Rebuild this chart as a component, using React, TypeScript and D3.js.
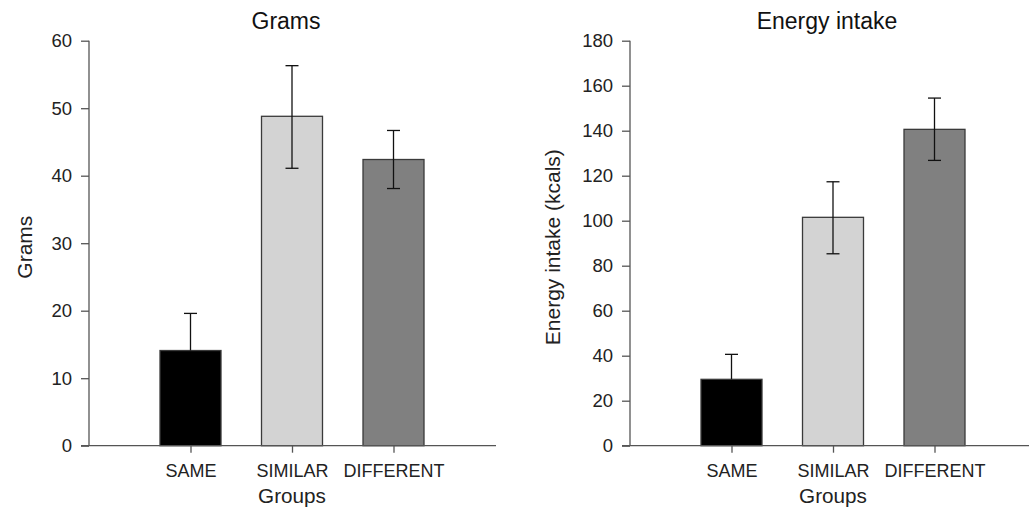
import React, { useEffect, useRef } from 'react';
import * as d3 from 'd3';

// groups on the x axis
const groups = ['SAME', 'SIMILAR', 'DIFFERENT'];
const barColors = ['#000000', '#d3d3d3', '#808080'];

// Grams panel
const gramsMean = [14.1, 48.8, 42.4];
const gramsLow = [14.1, 41.1, 38.1];
const gramsHigh = [19.6, 56.3, 46.7];
const gramsTicks = [0, 10, 20, 30, 40, 50, 60];

// Energy intake panel
const energyMean = [29.5, 101.5, 140.6];
const energyLow = [29.5, 85.3, 126.8];
const energyHigh = [40.6, 117.3, 154.5];
const energyTicks = [0, 20, 40, 60, 80, 100, 120, 140, 160, 180];

const FONT = '"Liberation Sans", Arial, sans-serif';

type PanelProps = {
  left: number;
  title: string;
  yLabel: string;
  yMax: number;
  ticks: number[];
  mean: number[];
  low: number[];
  high: number[];
  xRight: number;
  labelOffset: number;
};

const Panel = ({ left, title, yLabel, yMax, ticks, mean, low, high, xRight, labelOffset }: PanelProps) => {
  const gRef = useRef<SVGGElement>(null);

  useEffect(() => {
    const g = d3.select(gRef.current);
    g.selectAll('*').remove();

    const top = 40.7;
    const bottom = 445.7;
    const plotW = 406;

    const x = d3.scalePoint<string>().domain(groups).range([0, plotW]).padding(1);
    const y = d3.scaleLinear().domain([0, yMax]).range([bottom, top]);
    const barW = 61;

    // bars
    g.selectAll('.bar')
      .data(groups)
      .enter()
      .append('rect')
      .attr('x', (d) => (x(d) as number) - barW / 2)
      .attr('y', (d, i) => y(mean[i]))
      .attr('width', barW)
      .attr('height', (d, i) => bottom - y(mean[i]))
      .attr('fill', (d, i) => barColors[i])
      .attr('stroke', '#3a3a3a')
      .attr('stroke-width', 1.3);

    // error bars
    const cap = 6.5;
    groups.forEach((d, i) => {
      const cx = x(d) as number;
      g.append('line')
        .attr('x1', cx).attr('x2', cx)
        .attr('y1', y(low[i])).attr('y2', y(high[i]))
        .attr('stroke', '#111').attr('stroke-width', 1.3);
      g.append('line')
        .attr('x1', cx - cap).attr('x2', cx + cap)
        .attr('y1', y(high[i])).attr('y2', y(high[i]))
        .attr('stroke', '#111').attr('stroke-width', 1.3);
      if (low[i] < mean[i]) {
        g.append('line')
          .attr('x1', cx - cap).attr('x2', cx + cap)
          .attr('y1', y(low[i])).attr('y2', y(low[i]))
          .attr('stroke', '#111').attr('stroke-width', 1.3);
      }
    });

    // y axis
    const yAxis = g.append('g')
      .call(d3.axisLeft(y).tickValues(ticks).tickSize(8).tickPadding(9));
    yAxis.select('.domain').attr('stroke', '#555').attr('stroke-width', 1.3).attr('d', `M0,${top}V${bottom}`);
    yAxis.selectAll('.tick line').attr('stroke', '#555').attr('stroke-width', 1.3);
    yAxis.selectAll('.tick text').attr('font-family', FONT).attr('font-size', 18.5).attr('fill', '#222');

    // x axis
    const xAxis = g.append('g')
      .attr('transform', `translate(0,${bottom})`)
      .call(d3.axisBottom(x).tickSize(7).tickPadding(12));
    xAxis.select('.domain').attr('stroke', '#555').attr('stroke-width', 1.3).attr('d', `M-8,0H${xRight}`);
    xAxis.selectAll('.tick line').attr('stroke', '#555').attr('stroke-width', 1.3);
    xAxis.selectAll('.tick text').attr('font-family', FONT).attr('font-size', 18).attr('fill', '#222');

    // labels
    g.append('text')
      .attr('x', plotW / 2 - 6)
      .attr('y', 29)
      .attr('text-anchor', 'middle')
      .attr('font-family', FONT)
      .attr('font-size', 23)
      .attr('fill', '#111')
      .text(title);

    g.append('text')
      .attr('x', plotW / 2)
      .attr('y', 503)
      .attr('text-anchor', 'middle')
      .attr('font-family', FONT)
      .attr('font-size', 20.7)
      .attr('fill', '#222')
      .text('Groups');

    g.append('text')
      .attr('transform', `translate(${-labelOffset},${(top + bottom) / 2 + 4}) rotate(-90)`)
      .attr('text-anchor', 'middle')
      .attr('font-family', FONT)
      .attr('font-size', 21)
      .attr('fill', '#222')
      .text(yLabel);
  }, [left, title, yLabel, yMax, ticks, mean, low, high, xRight, labelOffset]);

  return <g ref={gRef} transform={`translate(${left},0)`} />;
};

export default function App() {
  return (
    <svg width={1029} height={510} style={{ position: 'absolute', left: 0, top: 0, background: '#fff' }}>
      <Panel left={89} title="Grams" yLabel="Grams" yMax={60} ticks={gramsTicks}
        mean={gramsMean} low={gramsLow} high={gramsHigh} xRight={407} labelOffset={57} />
      <Panel left={630} title="Energy intake" yLabel="Energy intake (kcals)" yMax={180} ticks={energyTicks}
        mean={energyMean} low={energyLow} high={energyHigh} xRight={400} labelOffset={70} />
    </svg>
  );
}
